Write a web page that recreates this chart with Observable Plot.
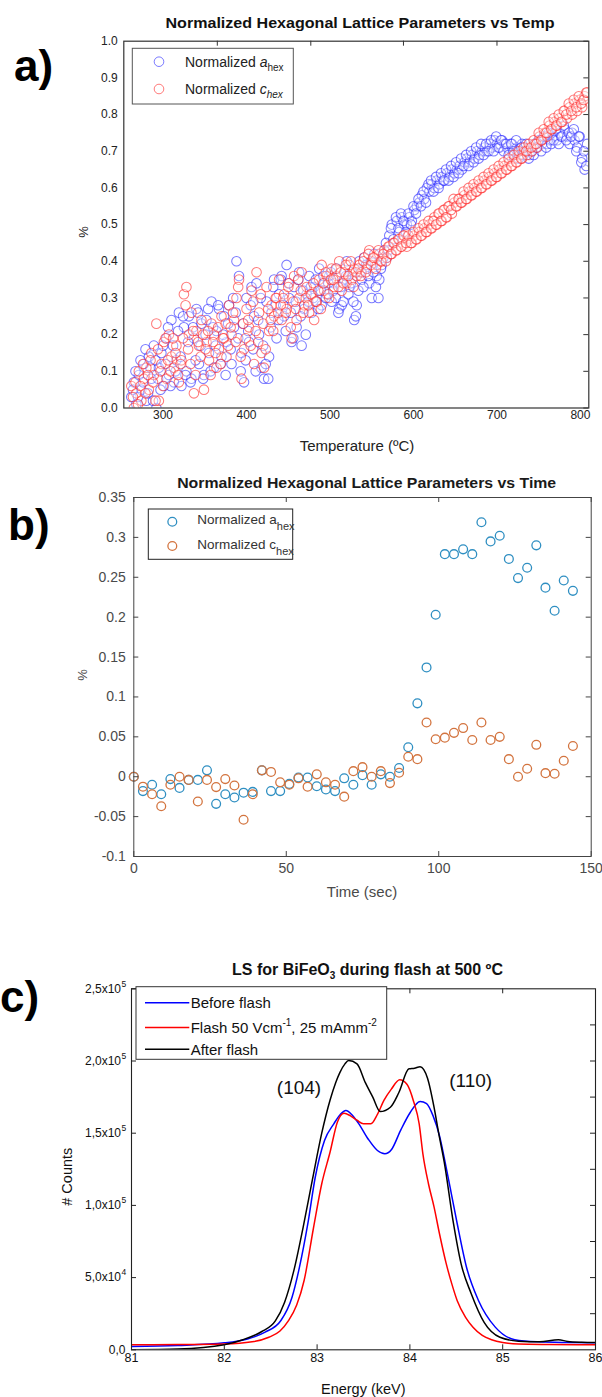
<!DOCTYPE html>
<html><head><meta charset="utf-8">
<script src="https://cdn.jsdelivr.net/npm/d3@7"></script>
<script src="https://cdn.jsdelivr.net/npm/@observablehq/plot@0.6"></script>
<style>
html,body{margin:0;padding:0;background:#fff;}
#wrap{position:relative;width:602px;height:1397px;overflow:hidden;background:#fff;}
#wrap svg{position:absolute;left:0;}
</style></head><body><div id="wrap"></div>
<script>
// ---------- Panel a data ----------
const tempA = [262,265,268,271,274,277,280,283,286,289,
292,295,298,301,304,307,310,313,316,319,
322,325,328,331,334,337,340,343,346,349,
352,355,358,361,364,367,370,373,376,379,
382,385,388,391,394,397,400,403,406,409,
412,415,418,421,424,427,430,433,436,439,
442,445,448,451,454,457,460,463,466,469,
472,475,478,481,484,487,490,493,496,499,
502,505,508,511,514,517,520,523,526,529,
532,535,538,541,544,547,550,553,556,559,
562,565,568,571,574,577,580,583,586,589,
592,595,598,601,604,607,610,613,616,619,
622,625,628,631,634,637,640,643,646,649,
652,655,658,661,664,667,670,673,676,679,
682,685,688,691,694,697,700,703,706,709,
712,715,718,721,724,727,730,733,736,739,
742,745,748,751,754,757,760,763,766,769,
772,775,778,781,784,787,790,793,796,799,
802,805,808];
const aHex = [0.03,0.07,0.01,0.09,0.05,0.12,0.02,0.14,0.08,0.17,
0.00,0.11,0.15,0.06,0.19,0.09,0.24,0.07,0.13,0.26,
0.06,0.22,0.10,0.25,0.08,0.19,0.27,0.12,0.23,0.09,
0.24,0.15,0.29,0.11,0.21,0.27,0.14,0.25,0.18,0.28,
0.12,0.22,0.40,0.36,0.15,0.07,0.30,0.18,0.33,0.25,
0.34,0.20,0.11,0.08,0.29,0.14,0.26,0.35,0.19,0.31,
0.36,0.25,0.39,0.30,0.18,0.33,0.22,0.37,0.17,0.27,
0.31,0.36,0.26,0.33,0.29,0.38,0.28,0.34,0.31,0.36,
0.29,0.34,0.38,0.27,0.28,0.35,0.40,0.33,0.37,0.24,
0.28,0.40,0.35,0.41,0.38,0.34,0.30,0.42,0.36,0.35,
0.39,0.43,0.41,0.47,0.50,0.45,0.51,0.48,0.52,0.50,
0.50,0.52,0.51,0.54,0.55,0.56,0.58,0.57,0.60,0.59,
0.61,0.60,0.62,0.61,0.63,0.62,0.64,0.63,0.65,0.64,
0.65,0.66,0.65,0.67,0.68,0.67,0.69,0.68,0.70,0.69,
0.70,0.71,0.70,0.72,0.71,0.73,0.72,0.71,0.73,0.72,
0.71,0.70,0.72,0.69,0.71,0.70,0.72,0.71,0.70,0.69,
0.70,0.72,0.71,0.73,0.72,0.74,0.72,0.73,0.75,0.74,
0.73,0.75,0.74,0.76,0.74,0.72,0.75,0.73,0.71,0.74,
0.68,0.65,0.72];
const cHex = [0.06,0.00,0.04,0.10,0.02,0.08,0.11,0.05,0.15,0.09,
0.23,0.02,0.12,0.18,0.08,0.20,0.14,0.11,0.17,0.07,
0.13,0.31,0.33,0.20,0.26,0.04,0.21,0.17,0.24,0.05,
0.18,0.13,0.23,0.20,0.11,0.16,0.25,0.19,0.14,0.28,
0.20,0.24,0.30,0.35,0.08,0.16,0.27,0.22,0.32,0.12,
0.37,0.26,0.15,0.11,0.33,0.21,0.28,0.25,0.30,0.35,
0.24,0.31,0.27,0.34,0.19,0.36,0.24,0.30,0.37,0.28,
0.33,0.26,0.31,0.24,0.29,0.35,0.39,0.32,0.36,0.30,
0.38,0.33,0.36,0.40,0.32,0.37,0.34,0.39,0.35,0.38,
0.36,0.39,0.37,0.41,0.38,0.43,0.40,0.41,0.39,0.42,
0.40,0.43,0.41,0.44,0.42,0.45,0.43,0.46,0.44,0.47,
0.44,0.46,0.45,0.47,0.46,0.48,0.47,0.49,0.48,0.50,
0.49,0.52,0.50,0.53,0.51,0.54,0.52,0.55,0.53,0.56,
0.55,0.57,0.56,0.58,0.57,0.59,0.58,0.60,0.59,0.61,
0.60,0.62,0.61,0.63,0.62,0.64,0.63,0.65,0.64,0.66,
0.65,0.67,0.66,0.68,0.67,0.69,0.68,0.70,0.69,0.71,
0.70,0.72,0.71,0.74,0.73,0.75,0.74,0.77,0.76,0.78,
0.77,0.79,0.78,0.81,0.79,0.82,0.80,0.83,0.81,0.84,
0.82,0.85,0.86];
// second sweep of readings (interleaved temperatures)
const tempA2 = [264,267,270,273,276,279,282,285,288,291,
294,297,300,303,306,309,312,315,318,321,
324,327,330,333,336,339,342,345,348,351,
354,357,360,363,366,369,372,375,378,381,
384,387,390,393,396,399,402,405,408,411,
414,417,420,423,426,429,432,435,438,441,
444,447,450,453,456,459,462,465,468,471,
474,477,480,483,486,489,492,495,498,501,
504,507,510,513,516,519,522,525,528,531,
534,537,540,543,546,549,552,555,558,561,
564,567,570,573,576,579,582,585,588,591,
594,597,600,603,606,609,612,615,618,621,
624,627,630,633,636,639,642,645,648,651,
654,657,660,663,666,669,672,675,678,681,
684,687,690,693,696,699,702,705,708,711,
714,717,720,723,726,729,732,735,738,741,
744,747,750,753,756,759,762,765,768,771,
774,777,780,783,786,789,792,795,798,801,
804,807];
const aHex2 = [0.05,0.10,0.03,0.13,0.07,0.16,0.04,0.11,0.02,0.13,
0.08,0.05,0.17,0.12,0.22,0.06,0.17,0.10,0.21,0.14,
0.25,0.09,0.18,0.07,0.22,0.13,0.26,0.17,0.08,0.20,
0.27,0.10,0.22,0.17,0.28,0.12,0.20,0.09,0.23,0.16,
0.30,0.26,0.19,0.10,0.23,0.13,0.21,0.28,0.16,0.10,
0.24,0.30,0.17,0.12,0.08,0.22,0.33,0.28,0.24,0.35,
0.28,0.21,0.34,0.26,0.19,0.29,0.35,0.25,0.32,0.20,
0.29,0.33,0.30,0.35,0.27,0.32,0.36,0.30,0.34,0.37,
0.32,0.30,0.26,0.33,0.29,0.36,0.31,0.34,0.29,0.25,
0.32,0.37,0.33,0.39,0.36,0.40,0.37,0.33,0.30,0.38,
0.41,0.45,0.43,0.49,0.46,0.52,0.49,0.53,0.51,0.48,
0.53,0.50,0.55,0.53,0.57,0.55,0.59,0.56,0.61,0.62,
0.59,0.63,0.60,0.64,0.62,0.65,0.62,0.66,0.63,0.67,
0.64,0.68,0.66,0.69,0.66,0.70,0.67,0.71,0.68,0.72,
0.69,0.72,0.70,0.73,0.70,0.74,0.71,0.73,0.70,0.72,
0.69,0.72,0.70,0.73,0.68,0.71,0.69,0.72,0.68,0.70,
0.69,0.71,0.73,0.70,0.74,0.71,0.75,0.72,0.73,0.76,
0.72,0.74,0.77,0.73,0.75,0.74,0.76,0.70,0.74,0.67,
0.70,0.66];
const cHex2 = [0.03,0.07,0.01,0.06,0.12,0.04,0.09,0.13,0.07,0.02,
0.16,0.10,0.06,0.19,0.13,0.10,0.19,0.15,0.09,0.12,
0.19,0.28,0.16,0.12,0.21,0.09,0.18,0.14,0.20,0.16,
0.21,0.09,0.18,0.15,0.22,0.12,0.19,0.23,0.17,0.22,
0.26,0.18,0.33,0.14,0.23,0.19,0.24,0.17,0.29,0.21,
0.18,0.31,0.23,0.16,0.27,0.24,0.21,0.30,0.26,0.28,
0.30,0.26,0.33,0.22,0.29,0.27,0.35,0.32,0.26,0.30,
0.28,0.31,0.34,0.29,0.32,0.27,0.34,0.37,0.31,0.35,
0.35,0.38,0.33,0.37,0.34,0.39,0.36,0.40,0.33,0.37,
0.38,0.36,0.40,0.37,0.42,0.39,0.41,0.38,0.43,0.40,
0.42,0.40,0.44,0.42,0.45,0.43,0.46,0.44,0.47,0.45,
0.47,0.45,0.48,0.46,0.49,0.47,0.50,0.48,0.51,0.49,
0.51,0.50,0.53,0.51,0.54,0.52,0.55,0.54,0.57,0.55,
0.57,0.56,0.59,0.57,0.60,0.58,0.61,0.59,0.62,0.60,
0.63,0.61,0.64,0.62,0.65,0.63,0.66,0.64,0.67,0.65,
0.68,0.66,0.69,0.67,0.70,0.68,0.71,0.70,0.72,0.71,
0.73,0.72,0.75,0.73,0.76,0.75,0.78,0.76,0.79,0.77,
0.80,0.78,0.81,0.80,0.83,0.81,0.84,0.82,0.85,0.83,
0.84,0.86];
const xTicksA = [300,400,500,600,700,800];
const yTicksA = [0,0.1,0.2,0.3,0.4,0.5,0.6,0.7,0.8,0.9,1.0];
const topTicksA = [365,477,588,700];

// ---------- Panel b data ----------
const timeB = [0,3,6,9,12,15,18,21,24,27,30,33,36,39,42,45,48,51,54,57,60,63,66,69,72,75,78,81,84,87,90,93,96,99,102,105,108,111,114,117,120,123,126,129,132,135,138,141,144];
const aHexB = [0,-0.018,-0.010,-0.022,-0.003,-0.014,-0.004,-0.004,0.008,-0.034,-0.022,-0.026,-0.020,-0.019,0.008,-0.018,-0.018,-0.009,-0.001,-0.001,-0.012,-0.016,-0.018,-0.002,-0.010,0.002,-0.010,0.003,0.0,0.011,0.037,0.092,0.137,0.203,0.279,0.279,0.285,0.279,0.319,0.295,0.302,0.273,0.249,0.262,0.290,0.237,0.208,0.246,0.233];
const cHexB = [0,-0.0125,-0.022,-0.037,-0.010,0.0,-0.004,-0.031,-0.004,-0.013,-0.003,-0.011,-0.054,-0.022,0.008,0.006,-0.007,-0.010,-0.002,-0.0125,0.003,-0.007,-0.010,-0.025,0.007,0.012,0.0,0.007,-0.008,0.005,0.025,0.022,0.068,0.047,0.049,0.055,0.061,0.046,0.068,0.046,0.050,0.022,0.0,0.010,0.040,0.0045,0.0037,0.020,0.0385];
const xTicksB = [0,50,100,150];
const yTicksB = [-0.1,-0.05,0,0.05,0.1,0.15,0.2,0.25,0.3,0.35];

// ---------- Panel c data ----------
const eBefore = [81.0,81.5,82.0,82.25,82.44,82.61,82.73,82.81,82.9,82.98,83.08,83.18,83.25,83.31,83.38,83.45,83.55,83.65,83.73,83.8,83.9,84.0,84.11,84.18,84.25,84.32,84.39,84.45,84.51,84.61,84.74,84.92,85.13,85.38,85.7,86.0];
const cBefore = [2300,3000,4800,7500,12200,20300,36400,57200,87300,119500,145000,156500,163000,165700,162500,156500,146000,138000,135700,138500,152000,164000,172000,170500,162000,148000,126500,107000,87300,57200,34000,15700,7000,5500,5000,4800];
const eFlash = [81.0,81.5,82.0,82.3,82.48,82.6,82.69,82.78,82.86,82.96,83.05,83.14,83.22,83.29,83.36,83.43,83.5,83.58,83.65,83.72,83.8,83.89,83.97,84.04,84.1,84.14,84.2,84.26,84.32,84.39,84.45,84.51,84.6,84.68,84.78,84.88,85.0,85.17,85.5,86.0];
const cFlash = [3500,3600,4000,5500,8700,13000,20000,31000,48000,84000,115000,137000,158000,163800,162000,159000,156500,156500,163000,172700,180500,187000,183700,172000,156500,135700,115000,99000,80000,60000,46000,34000,22500,15700,10000,7000,5000,4000,3700,3500];
const eAfter = [81.0,81.5,82.0,82.2,82.4,82.55,82.65,82.75,82.85,82.95,83.05,83.14,83.2,83.245,83.3,83.34,83.43,83.52,83.6,83.68,83.79,83.88,83.99,84.05,84.11,84.19,84.26,84.31,84.37,84.47,84.55,84.66,84.8,84.97,85.17,85.4,85.6,85.7,85.85,86.0];
const cAfter = [0,500,3500,7000,12500,20000,33000,55000,85000,118000,150000,173000,185000,192000,198000,200300,198000,185000,175000,165000,168000,178000,194600,195000,196000,188000,168000,150000,130000,87300,60000,39000,19000,8700,6000,5500,7000,5800,5200,5000];
const xTicksC = [81,82,83,84,85,86];
const xInnerC = [82,83,84,85];
const yTicksC = [0,50000,100000,150000,200000,250000];
const yMantC = ["0,0","5,0x10","1,0x10","1,5x10","2,0x10","2,5x10"];
const yExpC = ["","4","5","5","5","5"];
const yMinorC = [25000,50000,75000,100000,125000,150000,175000,200000,225000];

// ---------- helpers ----------
const FONT = '"Liberation Sans", Arial, Helvetica, sans-serif';
const W = 602;
const wrap = document.getElementById("wrap");
function place(svg, top){ svg.style.top = top + "px"; wrap.appendChild(svg); return d3.select(svg); }
function addText(sel, x, y, str, o = {}) {
  const t = sel.append("text").attr("x", x).attr("y", y)
    .attr("font-family", FONT).attr("font-size", o.size || 12)
    .attr("fill", o.fill || "#222").attr("text-anchor", o.anchor || "start");
  if (o.weight) t.attr("font-weight", o.weight);
  if (o.rotate) t.attr("transform", `rotate(${o.rotate},${x},${y})`);
  if (o.len) t.attr("textLength", o.len).attr("lengthAdjust", "spacingAndGlyphs");
  if (str !== null) t.text(str);
  return t;
}

// ---------- Panel a ----------
const mA = {top: 40.7, bottom: 52.5, left: 123.3, right: 13.7}, hA = 460;
const fwA = W - mA.left - mA.right, fhA = hA - mA.top - mA.bottom;
const blueA = "#2424ff", redA = "#ff2424";
const ptsAa = tempA.map((t, i) => ({t, v: aHex[i]})).concat(tempA2.map((t, i) => ({t, v: aHex2[i]})));
const ptsAc = tempA.map((t, i) => ({t, v: cHex[i]})).concat(tempA2.map((t, i) => ({t, v: cHex2[i]})));
const dotA = {x: "t", y: "v", r: 4.8, strokeOpacity: 0.6, fill: "white", fillOpacity: 0.3, strokeWidth: 1.05, clip: true};
const plotA = Plot.plot({
  width: W, height: hA,
  marginTop: mA.top, marginBottom: mA.bottom, marginLeft: mA.left, marginRight: mA.right,
  x: {domain: [253, 810], axis: null},
  y: {domain: [0, 1], axis: null},
  style: {fontFamily: FONT, background: "white"},
  marks: [
    Plot.dot(ptsAa, {...dotA, stroke: blueA}),
    Plot.dot(ptsAc, {...dotA, stroke: redA}),
    Plot.frame({stroke: "#333", strokeWidth: 1.2}),
    Plot.tickY(yTicksA, {y: d => d, insetLeft: fwA - 5, stroke: "#333"}),
    Plot.tickX(topTicksA, {x: d => d, insetBottom: fhA - 5, stroke: "#333"}),
    Plot.text(yTicksA, {y: d => d, text: d => d.toFixed(1), frameAnchor: "left", dx: -6, textAnchor: "end", fontSize: 12, fill: "#222"}),
    Plot.text(xTicksA, {x: d => d, text: d => String(d), frameAnchor: "bottom", dy: 11, fontSize: 12, fill: "#222"})
  ]
});
const sA = place(plotA, 0);
addText(sA, 360, 28, "Normalized Hexagonal Lattice Parameters vs Temp", {size: 15, weight: "bold", anchor: "middle", fill: "#111", len: 389});
addText(sA, 14, 81, "a)", {size: 44, weight: "bold", fill: "#000"});
addText(sA, 88, 232, "%", {size: 13, anchor: "middle", rotate: -90});
addText(sA, 357, 451, "Temperature (ºC)", {size: 15, anchor: "middle"});
{
  const g = sA.append("g");
  g.append("rect").attr("x", 132.3).attr("y", 48.3).attr("width", 161).attr("height", 55.7)
    .attr("fill", "white").attr("stroke", "#555").attr("stroke-width", 1);
  const items = [{sym: "a", italicSub: false, color: blueA, y: 61.7}, {sym: "c", italicSub: true, color: redA, y: 89}];
  for (const it of items) {
    g.append("circle").attr("cx", 159).attr("cy", it.y).attr("r", 4.8).attr("fill", "white")
      .attr("stroke", it.color).attr("stroke-opacity", 0.6);
    const t = addText(g, 185, it.y + 5, null, {size: 14, fill: "#222"});
    t.append("tspan").text("Normalized ");
    t.append("tspan").attr("font-style", "italic").text(it.sym);
    t.append("tspan").attr("font-size", 10).attr("dy", 4).attr("font-style", it.italicSub ? "italic" : "normal").text("hex");
  }
}

// ---------- Panel b ----------
const mB = {top: 37, bottom: 44, left: 133.3, right: 11.3}, hB = 440;
const fwB = W - mB.left - mB.right, fhB = hB - mB.top - mB.bottom;
const blueB = "#2f8fc2", orangeB = "#d3743f";
const ptsBa = timeB.map((t, i) => ({t, v: aHexB[i]}));
const ptsBc = timeB.map((t, i) => ({t, v: cHexB[i]}));
const plotB = Plot.plot({
  width: W, height: hB,
  marginTop: mB.top, marginBottom: mB.bottom, marginLeft: mB.left, marginRight: mB.right,
  x: {domain: [0, 150], axis: null},
  y: {domain: [-0.1, 0.35], axis: null},
  style: {fontFamily: FONT, background: "white"},
  marks: [
    Plot.dot(ptsBa, {x: "t", y: "v", r: 4.4, stroke: blueB, strokeWidth: 1.3, fill: "none"}),
    Plot.dot(ptsBc, {x: "t", y: "v", r: 4.4, stroke: orangeB, strokeWidth: 1.3, fill: "none"}),
    Plot.frame({stroke: "#444", strokeWidth: 1}),
    Plot.tickY(yTicksB, {y: d => d, insetRight: fwB - 5, stroke: "#444"}),
    Plot.tickY(yTicksB, {y: d => d, insetLeft: fwB - 5, stroke: "#444"}),
    Plot.tickX(xTicksB, {x: d => d, insetTop: fhB - 5, stroke: "#444"}),
    Plot.tickX(xTicksB, {x: d => d, insetBottom: fhB - 5, stroke: "#444"}),
    Plot.text(yTicksB, {y: d => d, text: d => String(d), frameAnchor: "left", dx: -8, textAnchor: "end", fontSize: 14, fill: "#4a4a4a"}),
    Plot.text(xTicksB, {x: d => d, text: d => String(d), frameAnchor: "bottom", dy: 16, fontSize: 14, fill: "#4a4a4a"})
  ]
});
const sB = place(plotB, 460);
addText(sB, 366.7, 28, "Normalized Hexagonal Lattice Parameters vs Time", {size: 15, weight: "bold", anchor: "middle", fill: "#1a1a1a", len: 379});
addText(sB, 8, 80, "b)", {size: 44, weight: "bold", fill: "#000"});
addText(sB, 87, 215, "%", {size: 13, anchor: "middle", rotate: -90, fill: "#4a4a4a"});
addText(sB, 362, 437, "Time (sec)", {size: 15, anchor: "middle", fill: "#4a4a4a"});
{
  const g = sB.append("g");
  g.append("rect").attr("x", 148.3).attr("y", 49).attr("width", 144.4).attr("height", 50.3)
    .attr("fill", "white").attr("stroke", "#222").attr("stroke-width", 1);
  const items = [{sym: "a", color: blueB, y: 61.7}, {sym: "c", color: orangeB, y: 86}];
  for (const it of items) {
    g.append("circle").attr("cx", 172.3).attr("cy", it.y).attr("r", 4.4).attr("fill", "none")
      .attr("stroke", it.color).attr("stroke-width", 1.3);
    const t = addText(g, 197.3, it.y + 2.5, null, {size: 13.5, fill: "#333"});
    t.append("tspan").text("Normalized " + it.sym);
    t.append("tspan").attr("font-size", 11).attr("dy", 6).text("hex");
  }
}

// ---------- Panel c ----------
const mC = {top: 88.3, bottom: 47.7, left: 131, right: 7}, hC = 497;
const fwC = W - mC.left - mC.right, fhC = hC - mC.top - mC.bottom;
const linesC = [
  {e: eBefore, c: cBefore, color: "#0000ff"},
  {e: eFlash, c: cFlash, color: "#ff0000"},
  {e: eAfter, c: cAfter, color: "#000000"}
];
const plotC = Plot.plot({
  width: W, height: hC,
  marginTop: mC.top, marginBottom: mC.bottom, marginLeft: mC.left, marginRight: mC.right,
  x: {domain: [81, 86], axis: null},
  y: {domain: [0, 250000], axis: null},
  style: {fontFamily: FONT, background: "white"},
  marks: [
    ...linesC.map(s => Plot.line(s.e.map((e, i) => ({e, c: s.c[i]})), {x: "e", y: "c", stroke: s.color, strokeWidth: 1.5, curve: "monotone-x", clip: true})),
    Plot.frame({stroke: "#222", strokeWidth: 1.1}),
    Plot.tickY(yTicksC, {y: d => d, insetRight: fwC - 5, stroke: "#222"}),
    Plot.tickY(yMinorC, {y: d => d, insetLeft: fwC - 5, stroke: "#222"}),
    Plot.tickX(xInnerC, {x: d => d, insetTop: fhC - 5, stroke: "#222"}),
    Plot.tickX(xInnerC, {x: d => d, insetBottom: fhC - 5, stroke: "#222"}),
    Plot.text(yTicksC.slice(0, 1), {y: d => d, text: (d, i) => yMantC[0], frameAnchor: "left", dx: -6, textAnchor: "end", fontSize: 12, fill: "#111"}),
    Plot.text(yTicksC.slice(1), {y: d => d, text: (d, i) => yMantC[i + 1], frameAnchor: "left", dx: -10.5, textAnchor: "end", fontSize: 12, fill: "#111"}),
    Plot.text(yTicksC.slice(1), {y: d => d, text: (d, i) => yExpC[i + 1], frameAnchor: "left", dx: -10, dy: -5, textAnchor: "start", fontSize: 8.5, fill: "#111"}),
    Plot.text(xTicksC, {x: d => d, text: d => String(d), frameAnchor: "bottom", dy: 12.5, fontSize: 12.5, fill: "#111"})
  ]
});
const sC = place(plotC, 900);
{
  const t = addText(sC, 367.5, 75, null, {size: 16, weight: "bold", anchor: "middle", fill: "#111"});
  t.append("tspan").text("LS for BiFeO");
  t.append("tspan").attr("font-size", 10).attr("dy", 4).text("3");
  t.append("tspan").attr("dy", -4).text(" during flash at 500 ºC");
}
addText(sC, 0, 112, "c)", {size: 44, weight: "bold", fill: "#000"});
addText(sC, 72, 276.7, "# Counts", {size: 14.5, anchor: "middle", rotate: -90, fill: "#111"});
addText(sC, 363.3, 494, "Energy (keV)", {size: 14.5, anchor: "middle", fill: "#111"});
addText(sC, 299, 194, "(104)", {size: 19, anchor: "middle", fill: "#111"});
addText(sC, 470.7, 187, "(110)", {size: 19, anchor: "middle", fill: "#111"});
{
  const g = sC.append("g");
  g.append("rect").attr("x", 136).attr("y", 86.7).attr("width", 250.7).attr("height", 72.6)
    .attr("fill", "white").attr("stroke", "#333").attr("stroke-width", 1);
  const items = [
    {parts: [["Before flash", 0]], color: "#0000ff", y: 102.7},
    {parts: [["Flash 50 Vcm", 0], ["-1", 1], [", 25 mAmm", 0], ["-2", 1]], color: "#ff0000", y: 127.5},
    {parts: [["After flash", 0]], color: "#000000", y: 149.3}
  ];
  for (const it of items) {
    g.append("line").attr("x1", 145).attr("x2", 189.3).attr("y1", it.y).attr("y2", it.y)
      .attr("stroke", it.color).attr("stroke-width", 1.6);
    const t = addText(g, 190.7, it.y + 5.5, null, {size: 15, fill: "#111"});
    let sup = false;
    for (const [s, isSup] of it.parts) {
      const ts = t.append("tspan").text(s);
      if (isSup && !sup) { ts.attr("font-size", 10).attr("dy", -7); sup = true; }
      else if (!isSup && sup) { ts.attr("dy", 7); sup = false; }
      else if (isSup) ts.attr("font-size", 10);
    }
  }
}
</script></body></html>
